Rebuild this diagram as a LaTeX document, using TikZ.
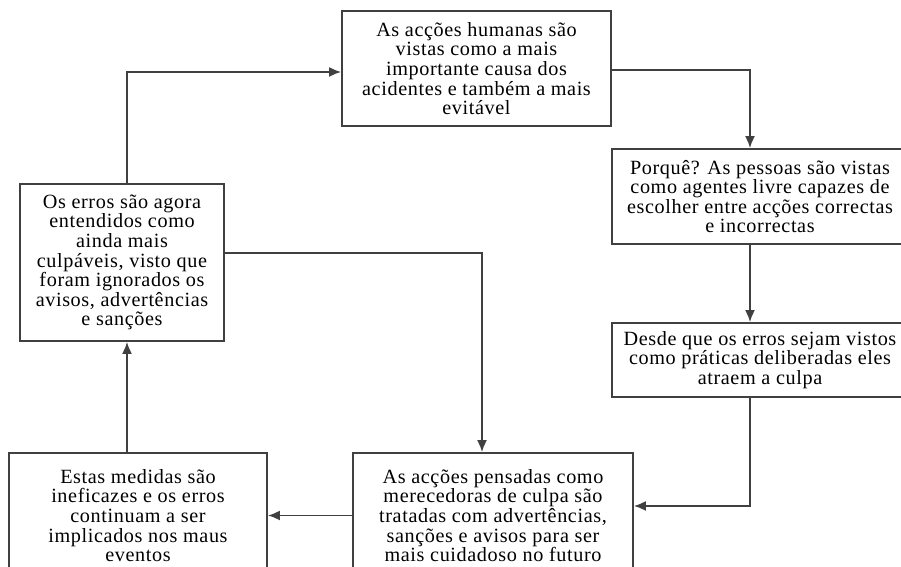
\documentclass[tikz,border=0pt]{standalone}
\usepackage{fontspec}
\setmainfont{Liberation Serif}[LetterSpace=3]
\usetikzlibrary{arrows.meta}
\tikzset{%
  x=0.5pt, y=0.5pt,
  flowbox/.style={
    draw=black!75,
    line width=0.9pt,
    rectangle,
    inner sep=0pt,
    align=center,
    font=\fontsize{10.1}{9.8}\selectfont},
  flowline/.style={
    draw=black!75,
    line width=0.9pt,
    -{Latex[length=6pt,width=5pt]}} %
}

\begin{document}
\begin{tikzpicture}
    \clip (0,0) rectangle (901,567);

    \node[flowbox, minimum width=134.5pt, minimum height=57.5pt] (acc) at (476.5,498.5)
      {As acções humanas são\\ vistas como a mais\\ importante causa dos\\ acidentes e também a mais\\ evitável};
    \node[flowbox, minimum width=148pt, minimum height=47.5pt] (porq) at (760,370.5)
      {Porquê? As pessoas são vistas\\ como agentes livre capazes de\\ escolher entre acções correctas\\ e incorrectas};
    \node[flowbox, minimum width=148pt, minimum height=37pt] (desde) at (760,207)
      {Desde que os erros sejam vistos\\ como práticas deliberadas eles\\ atraem a culpa};
    \node[flowbox, minimum width=102pt, minimum height=78.5pt] (erros) at (122,304.5)
      {Os erros são agora\\ entendidos como\\ ainda mais\\ culpáveis, visto que\\ foram ignorados os\\ avisos, advertências\\ e sanções};
    \node[flowbox, minimum width=129pt, minimum height=62.5pt] (estas) at (138,51.5)
      {Estas medidas são\\ ineficazes e os erros\\ continuam a ser\\ implicados nos maus\\ eventos};
    \node[flowbox, minimum width=140pt, minimum height=62.5pt] (pens) at (493,51.5)
      {As acções pensadas como\\ merecedoras de culpa são\\ tratadas com advertências,\\ sanções e avisos para ser\\ mais cuidadoso no futuro};

    \draw[flowline] ([xshift=2.5pt]erros.north) |- ([yshift=-1.75pt]acc.west);
    \draw[flowline] ([yshift=-0.75pt]acc.east) -| ([xshift=-5pt]porq.north);
    \draw[flowline] ([xshift=-5pt]porq.south) -- ([xshift=-5pt]desde.north);
    \draw[flowline] ([xshift=-5pt]desde.south) |- ([yshift=4.75pt]pens.east);
    \draw[flowline] (pens.west) -- (estas.east);
    \draw[flowline] ([xshift=2.5pt]erros.south |- estas.north) -- ([xshift=2.5pt]erros.south);
    \draw[flowline] ([yshift=4.75pt]erros.east) -| ([xshift=-5.5pt]pens.north);

\end{tikzpicture}
\end{document}
